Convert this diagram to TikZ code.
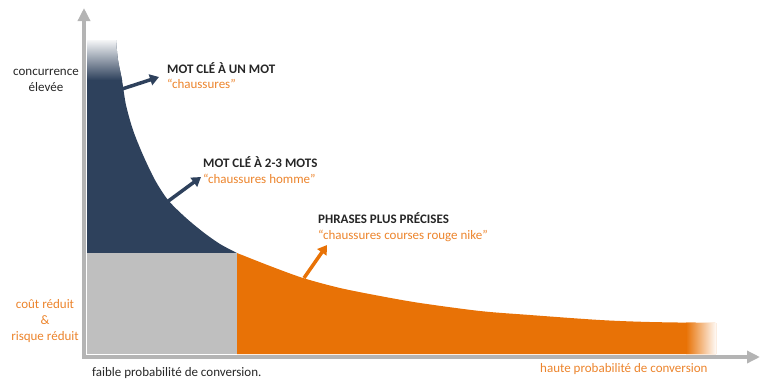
\documentclass[tikz,border=0pt]{standalone}
\usepackage{fontspec}
\setmainfont{Carlito}
\usetikzlibrary{arrows.meta}
\definecolor{navy}{RGB}{46,65,92}
\definecolor{orng}{RGB}{232,114,6}
\definecolor{orngtxt}{RGB}{236,132,44}
\definecolor{grayfill}{RGB}{191,191,191}
\definecolor{axisgray}{RGB}{180,180,180}
\definecolor{darktxt}{RGB}{38,38,38}
\tikzset{
  lbl/.style={anchor=west, inner sep=0pt, font=\fontsize{13}{16}\selectfont},
  title/.style={lbl, text=darktxt, font=\fontsize{13}{16}\selectfont\bfseries},
  sub/.style={lbl, text=orngtxt},
  ptr/.style={line width=3.5pt, -{Triangle[length=9pt,width=11pt]}},
  axis/.style={axisgray, line width=3.5pt, {Triangle[length=13pt,width=12pt]}-{Triangle[length=13pt,width=12pt]}}
}
\begin{document}
\begin{tikzpicture}[x=1pt,y=-1pt]
\useasboundingbox (0,0) rectangle (771,381);
% navy region
\begin{scope}
\clip (87,40) -- plot[smooth] coordinates {(116,40) (118,60) (122,80) (126,105) (133,130) (143,155) (155,180) (168,200) (185,217) (203,232) (220,244) (237,253)} -- (87,253) -- cycle;
\fill[navy] (80,30) rectangle (240,260);
\shade[top color=white, bottom color=navy] (80,38) rectangle (130,80);
\end{scope}
% orange region
\begin{scope}
\clip (237,253) -- plot[smooth] coordinates {(237,253) (270,266) (303,278) (340,288) (380,296) (420,303) (480,311) (530,315) (600,320) (650,322) (716,323)} -- (716,354) -- (237,354) -- cycle;
\fill[orng] (230,250) rectangle (720,360);
\shade[left color=orng, right color=white] (686,300) rectangle (717,360);
\end{scope}
% gray region
\fill[grayfill] (87,253) rectangle (237,354);
% axes
\draw[axis] (84,8) -- (84,357) -- (760,357);
% labels
\node[title] (t1) at (167,68) {MOT CLÉ À UN MOT};
\node[sub] (s1) at (167,84) {“chaussures”};
\node[title] (t2) at (203,162) {MOT CLÉ À 2-3 MOTS};
\node[sub] (s2) at (203,179) {“chaussures homme”};
\node[title] (t3) at (318,218) {PHRASES PLUS PRÉCISES};
\node[sub] (s3) at (318,236) {“chaussures courses rouge nike”};
\node[lbl, anchor=center, text=darktxt, align=center] (ce) at (46,80) {concurrence\\élevée};
\node[lbl, anchor=center, text=orngtxt, align=center] (cr) at (45,321) {coût réduit\\\&\\risque réduit};
\node[lbl, text=darktxt] (fp) at (92,373) {faible probabilité de conversion.};
\node[lbl, text=orngtxt] (hp) at (540,369) {haute probabilité de conversion};
% pointers
\coordinate (a1s) at (122,89);
\coordinate (a1e) at (159,77);
\coordinate (a2s) at (167,202);
\coordinate (a2e) at (201,177);
\coordinate (a3s) at (304,278);
\coordinate (a3e) at (327,245);
\draw[ptr, navy] (a1s) -- (a1e);
\draw[ptr, navy] (a2s) -- (a2e);
\draw[ptr, orng] (a3s) -- (a3e);
\end{tikzpicture}
\end{document}
